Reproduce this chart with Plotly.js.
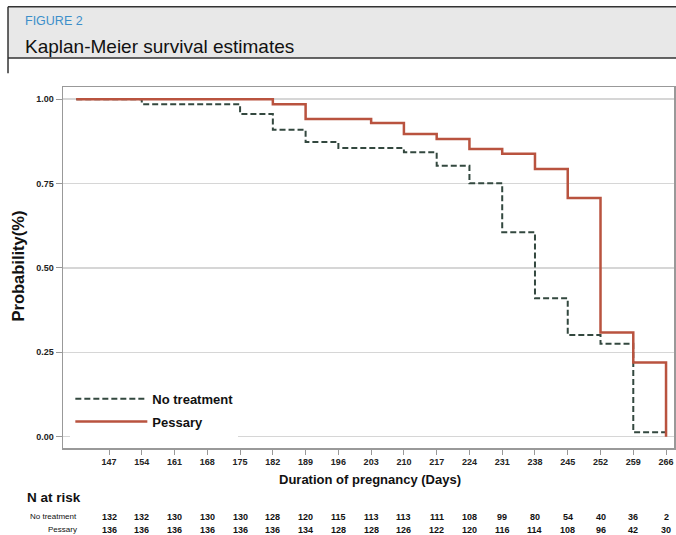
<!DOCTYPE html>
<html>
<head>
<meta charset="utf-8">
<script src="https://cdn.plot.ly/plotly-3.0.1.min.js"></script>
<style>
  html, body { margin: 0; padding: 0; background: #fff; }
  #chart { width: 676px; height: 535px; }
</style>
</head>
<body>
<div id="chart"></div>
<script>
// Kaplan-Meier step estimates (day of event, survival probability after it)
const noTreatDays = [140, 154, 175, 182, 189, 196, 210, 217, 224, 231, 238, 245, 252, 259, 266];
const noTreatSurv = [1.00, 0.985, 0.956, 0.909, 0.873, 0.855, 0.843, 0.803, 0.751, 0.606, 0.41, 0.301, 0.275, 0.013, 0.013];

const pessaryDays = [140, 182, 189, 203, 210, 217, 224, 231, 238, 245, 252, 259, 266];
const pessarySurv = [1.00, 0.985, 0.941, 0.929, 0.897, 0.882, 0.852, 0.838, 0.793, 0.707, 0.309, 0.22, 0.00];

// Axis ticks and number-at-risk table
const tickDays = [147, 154, 161, 168, 175, 182, 189, 196, 203, 210, 217, 224, 231, 238, 245, 252, 259, 266];
const riskNoTreatment = [132, 132, 130, 130, 130, 128, 120, 115, 113, 113, 111, 108, 99, 80, 54, 40, 36, 2];
const riskPessary = [136, 136, 136, 136, 136, 136, 134, 128, 128, 126, 122, 120, 116, 114, 108, 96, 42, 30];
const yTicks = [0, 0.25, 0.5, 0.75, 1.0];
const yTickText = ['0.00', '0.25', '0.50', '0.75', '1.00'];

const FONT = 'Liberation Sans, Arial, sans-serif';

const traces = [
  {
    x: noTreatDays, y: noTreatSurv, type: 'scatter', mode: 'lines',
    name: 'No treatment', legendgroup: 'a',
    line: { shape: 'hv', color: '#33483f', width: 2, dash: '6px,3px' },
    hoverinfo: 'skip'
  },
  {
    x: pessaryDays, y: pessarySurv, type: 'scatter', mode: 'lines',
    name: 'Pessary', legendgroup: 'b',
    line: { shape: 'hv', color: '#b9533f', width: 2.5 },
    hoverinfo: 'skip'
  }
];

const annotations = [
  { text: 'FIGURE 2', xref: 'paper', yref: 'paper', x: -0.066, y: 1.183,
    xanchor: 'left', yanchor: 'middle', showarrow: false,
    font: { family: FONT, size: 12.5, color: '#3c8fca' } },
  { text: 'Kaplan-Meier survival estimates', xref: 'paper', yref: 'paper', x: -0.066, y: 1.111,
    xanchor: 'left', yanchor: 'middle', showarrow: false,
    font: { family: FONT, size: 19, color: '#111' } },
  { text: 'Probability(%)', xref: 'paper', yref: 'paper', x: -0.074, y: 0.505,
    xanchor: 'center', yanchor: 'middle', textangle: -90, showarrow: false,
    font: { family: FONT, size: 16.5, color: '#111', weight: 'bold' } },
  { text: 'Duration of pregnancy (Days)', xref: 'paper', yref: 'paper', x: 0.503, y: -0.087,
    xanchor: 'center', yanchor: 'middle', showarrow: false,
    font: { family: FONT, size: 13, color: '#111', weight: 'bold' } },
  { text: 'N at risk', xref: 'paper', yref: 'paper', x: -0.062, y: -0.137,
    xanchor: 'left', yanchor: 'middle', showarrow: false,
    font: { family: FONT, size: 13.5, color: '#111', weight: 'bold' } },
  { text: 'No treatment', xref: 'paper', yref: 'paper', x: 0.027, y: -0.19,
    xanchor: 'right', yanchor: 'middle', showarrow: false,
    font: { family: FONT, size: 8, color: '#111' } },
  { text: 'Pessary', xref: 'paper', yref: 'paper', x: 0.027, y: -0.226,
    xanchor: 'right', yanchor: 'middle', showarrow: false,
    font: { family: FONT, size: 8, color: '#111' } }
];

tickDays.forEach((d, i) => {
  annotations.push({ text: String(riskNoTreatment[i]), xref: 'x', yref: 'paper', x: d, y: -0.19,
    xanchor: 'center', yanchor: 'middle', showarrow: false,
    font: { family: FONT, size: 9, color: '#111', weight: 'bold' } });
  annotations.push({ text: String(riskPessary[i]), xref: 'x', yref: 'paper', x: d, y: -0.226,
    xanchor: 'center', yanchor: 'middle', showarrow: false,
    font: { family: FONT, size: 9, color: '#111', weight: 'bold' } });
});

const shapes = [
  // caption panel behind the figure label
  { type: 'rect', xref: 'paper', yref: 'paper', x0: -0.09, x1: 1.01, y0: 1.080, y1: 1.222,
    fillcolor: '#e8e8e8', line: { width: 0 }, layer: 'below' },
  { type: 'line', xref: 'paper', yref: 'paper', x0: -0.09, x1: 1.01, y0: 1.222, y1: 1.222,
    line: { color: '#333', width: 1.5 } },
  { type: 'line', xref: 'paper', yref: 'paper', x0: -0.09, x1: 1.01, y0: 1.080, y1: 1.080,
    line: { color: '#333', width: 1.5 } },
  { type: 'line', xref: 'paper', yref: 'paper', x0: -0.09, x1: -0.09, y0: 1.038, y1: 1.222,
    line: { color: '#333', width: 1.5 } }
];

const layout = {
  width: 676, height: 535,
  margin: { l: 63, r: 2, t: 87, b: 87 },
  paper_bgcolor: '#fff', plot_bgcolor: '#fff',
  showlegend: true,
  legend: {
    x: 0.012, y: 0.178, xanchor: 'left', yanchor: 'top',
    bgcolor: '#fff', borderwidth: 0, itemwidth: 72, tracegroupgap: 3,
    font: { family: FONT, size: 13, color: '#111', weight: 'bold' }
  },
  xaxis: {
    range: [137.17, 267.7],
    tickvals: tickDays, ticktext: tickDays.map(String),
    ticks: 'outside', ticklen: 5, tickcolor: '#999',
    tickfont: { family: FONT, size: 9, color: '#222', weight: 'bold' },
    showgrid: false, zeroline: false,
    showline: true, linecolor: '#999', linewidth: 1.5, mirror: true
  },
  yaxis: {
    range: [-0.0335, 1.036],
    tickvals: yTicks, ticktext: yTickText,
    ticks: 'outside', ticklen: 6, tickcolor: '#999',
    tickfont: { family: FONT, size: 9, color: '#222', weight: 'bold' },
    showgrid: true, gridcolor: '#d6d6d6', gridwidth: 1.5,
    zeroline: false,
    showline: true, linecolor: '#999', linewidth: 1.5, mirror: true
  },
  annotations: annotations,
  shapes: shapes
};

Plotly.newPlot('chart', traces, layout, { displayModeBar: false, staticPlot: true });
</script>
</body>
</html>
